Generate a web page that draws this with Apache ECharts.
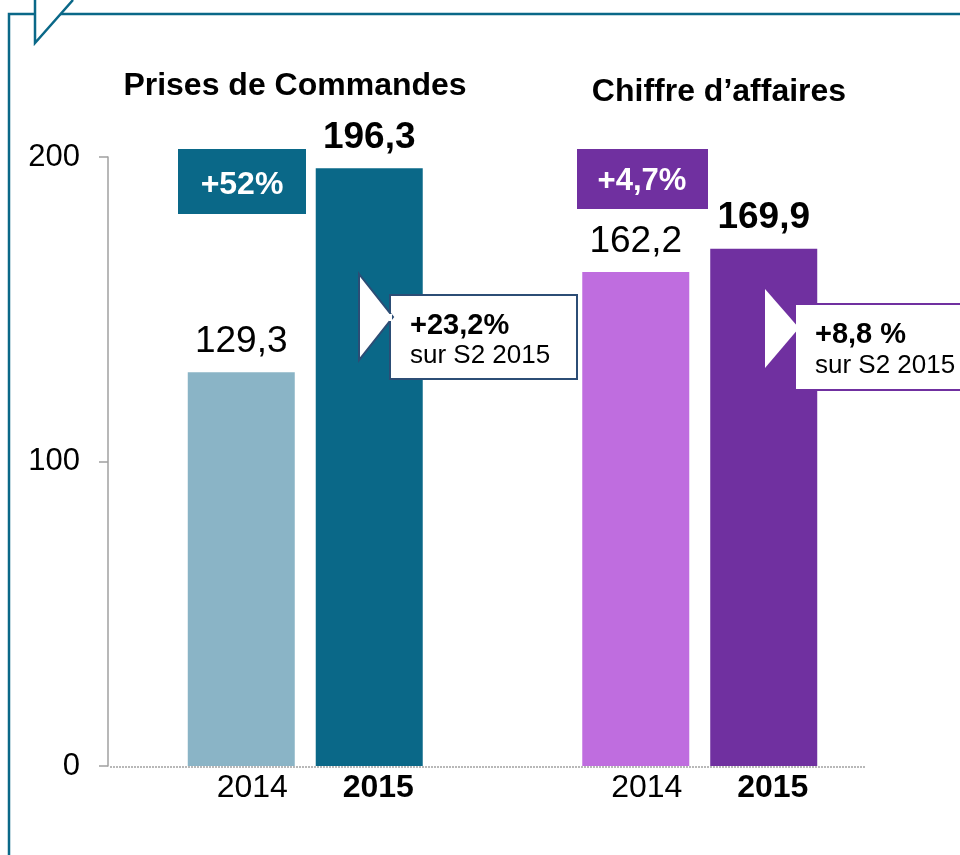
<!DOCTYPE html>
<html>
<head>
<meta charset="utf-8">
<script src="https://cdn.jsdelivr.net/npm/echarts@6/dist/echarts.min.js"></script>
<style>
  html, body { margin: 0; padding: 0; background: #fff; }
  #main { width: 960px; height: 855px; }
</style>
</head>
<body>
<div id="main"></div>
<script>
// données
var groupes = ['Prises de Commandes', 'Chiffre d\u2019affaires'];
var annees = ['2014', '2015'];
var val2014 = [129.3, 162.2];
var val2015 = [196.3, 169.9];
var couleurs2014 = ['#8ab4c6', '#bf6ddf'];
var couleurs2015 = ['#0a6888', '#7030a0'];
var evolAnnuelle = ['+52%', '+4,7%'];
var evolS2 = ['+23,2%', '+8,8 %'];
var yTicks = [0, 100, 200];

var police = '"Liberation Sans", Arial, sans-serif';
var cadre = '#0a6888';

function fmt(v) { return v.toFixed(1).replace('.', ','); }

function itemData(vals, cols) {
  return vals.map(function (v, i) { return { value: v, itemStyle: { color: cols[i] } }; });
}
function zeros(vals) { return vals.map(function () { return 0; }); }

var myChart = echarts.init(document.getElementById('main'));

var option = {
  backgroundColor: '#fff',
  animation: false,
  grid: { left: 108, right: 63, top: 157, bottom: 89 },
  xAxis: {
    type: 'category',
    data: groupes,
    axisLine: { show: false },
    axisTick: { show: false },
    axisLabel: { show: false }
  },
  yAxis: {
    type: 'value',
    min: yTicks[0],
    max: yTicks[yTicks.length - 1],
    interval: 100,
    splitLine: { show: false },
    axisLine: { show: true, lineStyle: { color: '#a0a0a0', width: 1.5 } },
    axisTick: { show: true, inside: false, length: 9, lineStyle: { color: '#a0a0a0', width: 1.5 } },
    axisLabel: { color: '#000', fontSize: 31, fontFamily: police, margin: 28 }
  },
  series: [
    {
      name: annees[0] + '_base', type: 'bar', stack: 'a', barWidth: 107,
      data: zeros(val2014), itemStyle: { color: 'transparent' },
      label: { show: true, position: 'bottom', distance: 6, offset: [11, 0], formatter: annees[0],
               fontSize: 32, fontFamily: police, color: '#000' }
    },
    {
      name: annees[0], type: 'bar', stack: 'a', barWidth: 107,
      data: itemData(val2014, couleurs2014),
      label: { show: true, position: 'top', distance: 12, fontSize: 37, fontFamily: police, color: '#000',
               formatter: function (p) { return fmt(p.value); } }
    },
    {
      name: annees[1] + '_base', type: 'bar', stack: 'b', barWidth: 107,
      data: zeros(val2015), itemStyle: { color: 'transparent' },
      label: { show: true, position: 'bottom', distance: 6, offset: [9, 0], formatter: annees[1],
               fontSize: 32, fontWeight: 'bold', fontFamily: police, color: '#000' }
    },
    {
      name: annees[1], type: 'bar', stack: 'b', barWidth: 107, barGap: '19.6%',
      data: itemData(val2015, couleurs2015),
      label: { show: true, position: 'top', distance: 12, fontSize: 37, fontWeight: 'bold', fontFamily: police, color: '#000',
               formatter: function (p) { return fmt(p.value); } }
    }
  ],
  graphic: [
    // cadre
    { type: 'polyline', z: 10, shape: { points: [[9, 855], [9, 14], [960, 14]] }, style: { stroke: cadre, lineWidth: 2.5, fill: null } },
    { type: 'polygon', z: 11, shape: { points: [[35, 0], [35, 43], [73, 0]] }, style: { fill: '#fff' } },
    { type: 'polyline', z: 12, shape: { points: [[35, 0], [35, 43], [73, 0]] }, style: { stroke: cadre, lineWidth: 2.5, fill: null } },
    // ligne de base pointillée
    { type: 'line', z: 10, shape: { x1: 110, y1: 767, x2: 866, y2: 767 }, style: { stroke: '#b8b8b8', lineWidth: 2, lineDash: [2, 1] } },
    // titres
    { type: 'text', z: 10, style: { text: groupes[0], x: 295, y: 86, align: 'center', verticalAlign: 'middle', font: 'bold 32px ' + police, fill: '#000' } },
    { type: 'text', z: 10, style: { text: groupes[1], x: 719, y: 92, align: 'center', verticalAlign: 'middle', font: 'bold 32px ' + police, fill: '#000' } },
    // évolutions annuelles
    { type: 'rect', z: 10, shape: { x: 178, y: 149, width: 128, height: 65 }, style: { fill: couleurs2015[0] } },
    { type: 'text', z: 11, style: { text: evolAnnuelle[0], x: 242, y: 185, align: 'center', verticalAlign: 'middle', font: 'bold 32px ' + police, fill: '#fff' } },
    { type: 'rect', z: 10, shape: { x: 577, y: 149, width: 131, height: 60 }, style: { fill: couleurs2015[1] } },
    { type: 'text', z: 11, style: { text: evolAnnuelle[1], x: 642, y: 181, align: 'center', verticalAlign: 'middle', font: 'bold 31px ' + police, fill: '#fff' } },
    // bulle S2 commandes
    { type: 'rect', z: 10, shape: { x: 390, y: 295, width: 187, height: 84 }, style: { fill: '#fff', stroke: '#2c4d75', lineWidth: 2 } },
    { type: 'polygon', z: 11, shape: { points: [[359, 274], [393, 317], [359, 360]] }, style: { fill: '#fff', stroke: '#2c4d75', lineWidth: 2 } },
    { type: 'rect', z: 12, shape: { x: 389, y: 314, width: 3, height: 7 }, style: { fill: '#fff' } },
    { type: 'text', z: 13, style: { text: evolS2[0], x: 410, y: 326, verticalAlign: 'middle', font: 'bold 29px ' + police, fill: '#000' } },
    { type: 'text', z: 13, style: { text: 'sur S2 2015', x: 410, y: 356, verticalAlign: 'middle', font: '26px ' + police, fill: '#000' } },
    // bulle S2 chiffre d'affaires
    { type: 'rect', z: 10, shape: { x: 795, y: 304, width: 180, height: 86 }, style: { fill: '#fff', stroke: '#7030a0', lineWidth: 2 } },
    { type: 'polygon', z: 11, shape: { points: [[765, 289], [799, 328], [765, 368]] }, style: { fill: '#fff' } },
    { type: 'text', z: 13, style: { text: evolS2[1], x: 815, y: 335, verticalAlign: 'middle', font: 'bold 29px ' + police, fill: '#000' } },
    { type: 'text', z: 13, style: { text: 'sur S2 2015', x: 815, y: 366, verticalAlign: 'middle', font: '26px ' + police, fill: '#000' } }
  ]
};

myChart.setOption(option);
</script>
</body>
</html>
